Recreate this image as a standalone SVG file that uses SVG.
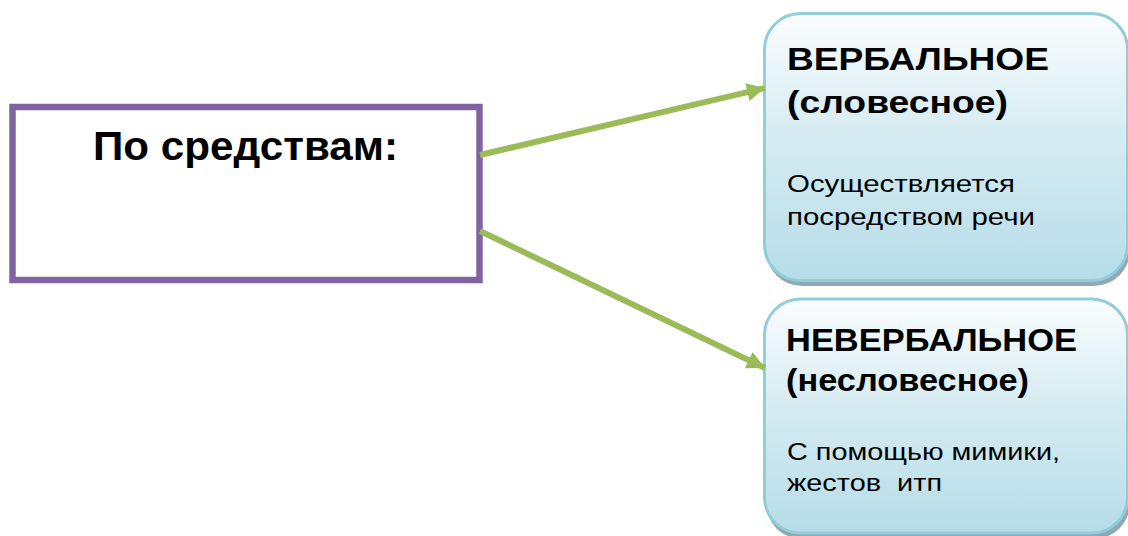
<svg xmlns="http://www.w3.org/2000/svg" width="1128" height="536" viewBox="0 0 1128 536">
<defs>
<linearGradient id="g" x1="0" y1="0" x2="0" y2="1">
<stop offset="0" stop-color="#FAFDFE"/>
<stop offset="0.45" stop-color="#D6ECF2"/>
<stop offset="1" stop-color="#B6DDE8"/>
</linearGradient>
<marker id="ah" viewBox="0 0 10 10" refX="10" refY="5" markerWidth="3.2" markerHeight="3" orient="auto" markerUnits="strokeWidth">
<path d="M0,0 L10,5 L0,10 Z" fill="#9BBB59"/>
</marker>
<style>
.h{font-family:"Liberation Sans",Arial,sans-serif;font-weight:bold;fill:#000;font-size:32px}
.t{font-family:"Liberation Sans",Arial,sans-serif;fill:#000;font-size:24px;white-space:pre}
.card{fill:url(#g);stroke:#92CDDC;stroke-width:3}
.shadow{fill:#8FAAB3}
.conn{stroke:#9BBB59;stroke-width:6;fill:none}
</style>
</defs>
<rect width="1128" height="536" fill="#fff"/>
<g id="node-source">
<rect x="12.5" y="107" width="467" height="173" fill="#fff" stroke="#8064A2" stroke-width="6.5"/>
<text class="h" x="93" y="160" style="font-size:40px" textLength="305" lengthAdjust="spacingAndGlyphs">По средствам:</text>
</g>
<g id="node-verbal">
<rect class="shadow" x="766" y="18" width="364" height="268" rx="36"/>
<rect class="card" x="764.5" y="13.5" width="363" height="267" rx="36"/>
<text class="h" x="787" y="70" textLength="262" lengthAdjust="spacingAndGlyphs">ВЕРБАЛЬНОЕ</text>
<text class="h" x="787" y="113" textLength="221" lengthAdjust="spacingAndGlyphs">(словесное)</text>
<text class="t" x="787" y="192" textLength="228" lengthAdjust="spacingAndGlyphs">Осуществляется</text>
<text class="t" x="787" y="225" textLength="248" lengthAdjust="spacingAndGlyphs">посредством речи</text>
</g>
<g id="node-nonverbal">
<rect class="shadow" x="766" y="303" width="364" height="236" rx="36"/>
<rect class="card" x="764.5" y="299" width="363" height="234" rx="36"/>
<text class="h" x="786" y="351" textLength="291" lengthAdjust="spacingAndGlyphs">НЕВЕРБАЛЬНОЕ</text>
<text class="h" x="786" y="391" textLength="243" lengthAdjust="spacingAndGlyphs">(несловесное)</text>
<text class="t" x="787" y="460" textLength="273" lengthAdjust="spacingAndGlyphs">С помощью мимики,</text>
<text class="t" x="787" y="491" textLength="155" lengthAdjust="spacingAndGlyphs">жестов  итп</text>
</g>
<g id="connectors">
<line class="conn" x1="480" y1="155" x2="765" y2="88" marker-end="url(#ah)"/>
<line class="conn" x1="480" y1="231" x2="765" y2="368" marker-end="url(#ah)"/>
</g>
</svg>
